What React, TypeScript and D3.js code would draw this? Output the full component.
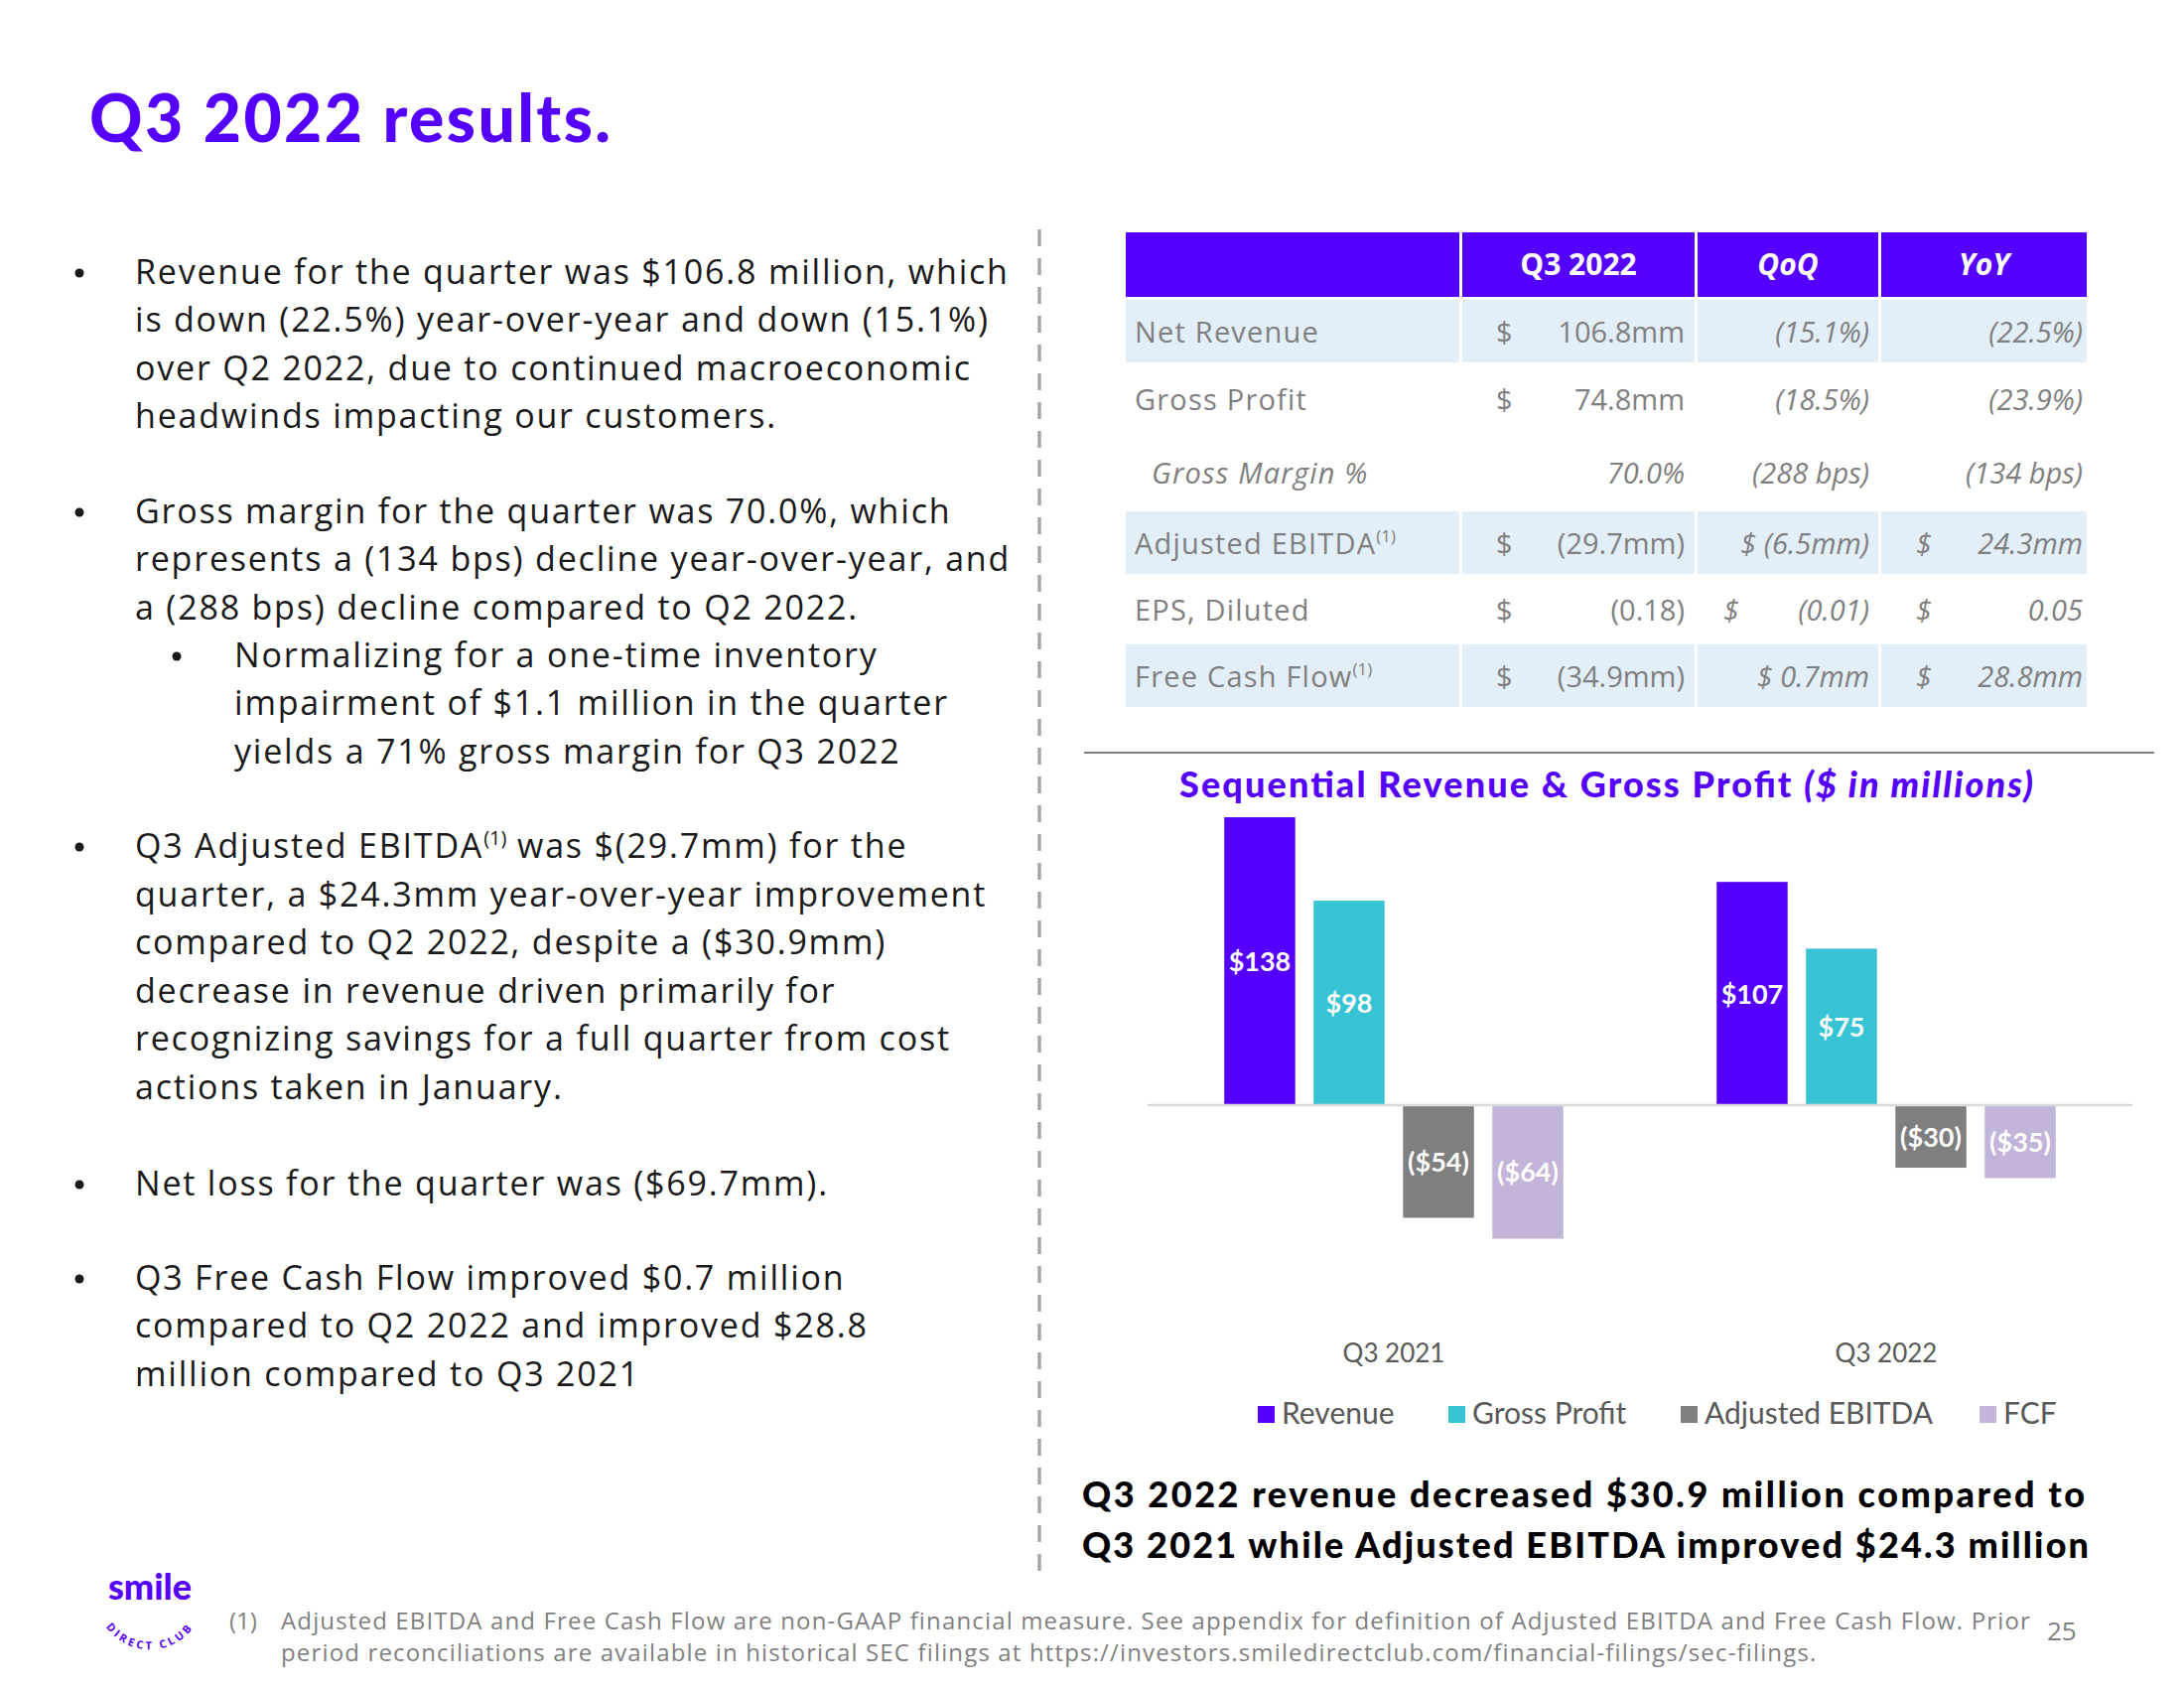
import React from "react";
import * as d3 from "d3";

const categories = ["Q3 2021", "Q3 2022"];
const seriesNames = ["Revenue", "Gross Profit", "Adjusted EBITDA", "FCF"];
const revenue = [138, 107];
const grossProfit = [98, 75];
const adjEbitda = [-54, -30];
const fcf = [-64, -35];
const barLabels = [
  ["$138", "$98", "($54)", "($64)"],
  ["$107", "$75", "($30)", "($35)"],
];
const seriesColors = ["#5500FF", "#36C3D3", "#7F7F7F", "#C3B4D9"];

const tableHeader = ["", "Q3 2022", "QoQ", "YoY"];
const tableLabels = ["Net Revenue", "Gross Profit", "Gross Margin %", "Adjusted EBITDA", "EPS, Diluted", "Free Cash Flow"];
const colQ3 = [["$", "106.8mm"], ["$", "74.8mm"], ["", "70.0%"], ["$", "(29.7mm)"], ["$", "(0.18)"], ["$", "(34.9mm)"]];
const colQoQ = [["", "(15.1%)"], ["", "(18.5%)"], ["", "(288 bps)"], ["$ ", "(6.5mm)"], ["$", "(0.01)"], ["$ ", "0.7mm"]];
const colYoY = [["", "(22.5%)"], ["", "(23.9%)"], ["", "(134 bps)"], ["$", "24.3mm"], ["$", "0.05"], ["$", "28.8mm"]];

const bullet1 = [
  "Revenue for the quarter was $106.8 million, which",
  "is down (22.5%) year-over-year and down (15.1%)",
  "over Q2 2022, due to continued macroeconomic",
  "headwinds impacting our customers.",
];
const bullet2 = [
  "Gross margin for the quarter was 70.0%, which",
  "represents a (134 bps) decline year-over-year, and",
  "a (288 bps) decline compared to Q2 2022.",
];
const subBullet = [
  "Normalizing for a one-time inventory",
  "impairment of $1.1 million in the quarter",
  "yields a 71% gross margin for Q3 2022",
];
const bullet3 = [
  "quarter, a $24.3mm year-over-year improvement",
  "compared to Q2 2022, despite a ($30.9mm)",
  "decrease in revenue driven primarily for",
  "recognizing savings for a full quarter from cost",
  "actions taken in January.",
];
const bullet4 = ["Net loss for the quarter was ($69.7mm)."];
const bullet5 = [
  "Q3 Free Cash Flow improved $0.7 million",
  "compared to Q2 2022 and improved $28.8",
  "million compared to Q3 2021",
];
const summary = [
  "Q3 2022 revenue decreased $30.9 million compared to",
  "Q3 2021 while Adjusted EBITDA improved $24.3 million",
];
const footnote = [
  "Adjusted EBITDA and Free Cash Flow are non-GAAP financial measure. See appendix for definition of Adjusted EBITDA and Free Cash Flow.  Prior",
  "period reconciliations are available in historical SEC filings at https://investors.smiledirectclub.com/financial-filings/sec-filings.",
];

const PURPLE = "#5500FF";
const HEAVY_FONT = "Lato, Inter, sans-serif";
const BODY_FONT = "'Open Sans', Lato, sans-serif";
const CHART_FONT = "Lato, 'Open Sans', sans-serif";
const TEXT = "#1a1a1a";

export default function App() {
  const x0 = d3.scaleBand<string>().domain(categories).range([1156, 2148]).paddingInner(0).paddingOuter(0);
  const x1 = d3.scaleBand<string>().domain(seriesNames).range([0, x0.bandwidth()]).paddingInner(0.206).paddingOuter(0.858);
  const y = d3.scaleLinear().domain([-80, 140]).range([1113 + 80 * 2.101, 1113 - 140 * 2.101]);
  const values = [revenue, grossProfit, adjEbitda, fcf];

  const bodyLine = (txt: string, xx: number, yy: number, key: string) => (
    <text key={key} x={xx} y={yy} fontFamily={BODY_FONT} fontSize={34} letterSpacing={1.8} fill={TEXT}>{txt}</text>
  );
  const dot = (xx: number, yy: number) => <circle cx={xx} cy={yy - 11} r={4.5} fill={TEXT} />;

  const cols = [[1134, 1470], [1473, 1707], [1710, 1892], [1895, 2102]];
  const rows = [[302, 365], [367, 436], [438, 513], [515, 578], [580, 647], [649, 712]];
  const shaded = [true, false, false, true, false, true];
  const italicVals = [false, false, true, false, false, false];

  return (
    <svg width={2200} height={1700} style={{ position: "absolute", left: 0, top: 0, background: "#fff" }}>
      <rect x={0} y={0} width={2200} height={1700} fill="#fff" />
      {/* Title */}
      <text x={90} y={143} fontFamily={HEAVY_FONT} fontWeight={900} fontSize={66} fill={PURPLE}
        textLength={525} lengthAdjust="spacing">Q3 2022 results.</text>

      {/* Bullets */}
      {dot(80, 286)}
      {bullet1.map((l, i) => bodyLine(l, 136, 286 + i * 48.4, "b1" + i))}
      {dot(80, 527)}
      {bullet2.map((l, i) => bodyLine(l, 136, 527 + i * 48.4, "b2" + i))}
      {dot(178, 672)}
      {subBullet.map((l, i) => bodyLine(l, 236, 672 + i * 48.4, "sb" + i))}
      {dot(80, 864)}
      <text x={136} y={864} fontFamily={BODY_FONT} fontSize={34} letterSpacing={1.8} fill={TEXT}>
        Q3 Adjusted EBITDA<tspan fontSize={20} letterSpacing={0} dy={-13}>(1)</tspan><tspan dy={13}> was $(29.7mm) for the</tspan>
      </text>
      {bullet3.map((l, i) => bodyLine(l, 136, 913 + i * 48.4, "b3" + i))}
      {dot(80, 1204)}
      {bullet4.map((l, i) => bodyLine(l, 136, 1204 + i * 48.4, "b4" + i))}
      {dot(80, 1299)}
      {bullet5.map((l, i) => bodyLine(l, 136, 1299 + i * 48.4, "b5" + i))}

      {/* Divider */}
      <line x1={1047} x2={1047} y1={231} y2={1592} stroke="#A6A6A6" strokeWidth={3.5} strokeDasharray="17 12" />

      {/* Table */}
      {cols.map((c, i) => (
        <rect key={"h" + i} x={c[0]} y={234} width={c[1] - c[0]} height={65} fill={PURPLE} />
      ))}
      {tableHeader.map((h, i) =>
        h ? (
          <text key={"ht" + i} x={(cols[i][0] + cols[i][1]) / 2} y={277} textAnchor="middle" fontFamily={BODY_FONT}
            fontWeight={700} fontStyle={i > 1 ? "italic" : "normal"} fontSize={30} fill="#fff">{h}</text>
        ) : null
      )}
      {rows.map((r, ri) =>
        shaded[ri]
          ? cols.map((c, ci) => (
              <rect key={"r" + ri + "c" + ci} x={c[0]} y={r[0]} width={c[1] - c[0]} height={r[1] - r[0]} fill="#E2EEF8" />
            ))
          : null
      )}
      {rows.map((r, ri) => {
        const by = (r[0] + r[1]) / 2 + 11;
        const lbl = tableLabels[ri];
        const sup = ri === 3 || ri === 5;
        return (
          <g key={"rt" + ri} fontFamily={BODY_FONT} fontSize={29} fill="#7F7F7F">
            <text x={ri === 2 ? 1160 : 1143} y={by} fontStyle={ri === 2 ? "italic" : "normal"} letterSpacing={1.2}>
              {lbl}
              {sup ? <tspan fontSize={17} letterSpacing={0} dy={-12}>(1)</tspan> : null}
            </text>
            {colQ3[ri][0] ? <text x={1507} y={by}>{colQ3[ri][0]}</text> : null}
            <text x={1697} y={by} textAnchor="end" fontStyle={italicVals[ri] ? "italic" : "normal"}>{colQ3[ri][1]}</text>
            {colQoQ[ri][0] === "$ " ? (
              <text x={1883} y={by} textAnchor="end" fontStyle="italic">{"$ " + colQoQ[ri][1]}</text>
            ) : (
              <>
                {colQoQ[ri][0] ? <text x={1736} y={by} fontStyle="italic">$</text> : null}
                <text x={1883} y={by} textAnchor="end" fontStyle="italic">{colQoQ[ri][1]}</text>
              </>
            )}
            {colYoY[ri][0] ? <text x={1930} y={by} fontStyle="italic">$</text> : null}
            <text x={2098} y={by} textAnchor="end" fontStyle="italic">{colYoY[ri][1]}</text>
          </g>
        );
      })}

      {/* Horizontal rule */}
      <line x1={1092} x2={2170} y1={758} y2={758} stroke="#808080" strokeWidth={2} />

      {/* Chart title */}
      <text x={1188} y={803} fontFamily={HEAVY_FONT} fontWeight={900} fontSize={36} fill={PURPLE}
        textLength={860} lengthAdjust="spacing">
        Sequential Revenue &amp; Gross Profit <tspan fontStyle="italic">($ in millions)</tspan>
      </text>

      {/* Bars */}
      {categories.map((cat, ci) => (
        <g key={cat}>
          {seriesNames.map((s, si) => {
            const v = values[si][ci];
            const bx = (x0(cat) as number) + (x1(s) as number);
            const top = y(Math.max(0, v));
            const bot = y(Math.min(0, v));
            return (
              <g key={s}>
                <rect x={bx} y={top} width={x1.bandwidth()} height={bot - top} fill={seriesColors[si]} />
                <text x={bx + x1.bandwidth() / 2} y={(top + bot) / 2 + 10} textAnchor="middle" fontFamily={CHART_FONT}
                  fontWeight={700} fontSize={27} fill="#fff">{barLabels[ci][si]}</text>
              </g>
            );
          })}
          <text x={(x0(cat) as number) + x0.bandwidth() / 2} y={1372} textAnchor="middle" fontFamily={CHART_FONT}
            fontSize={26} fill="#595959">{cat}</text>
        </g>
      ))}
      <line x1={1156} x2={2148} y1={y(0)} y2={y(0)} stroke="#D9D9D9" strokeWidth={2.5} />

      {/* Legend */}
      {seriesNames.map((s, i) => {
        const lx = [1267, 1459, 1693, 1994][i];
        return (
          <g key={"lg" + s}>
            <rect x={lx} y={1416} width={17} height={17} fill={seriesColors[i]} />
            <text x={lx + 24} y={1434} fontFamily={CHART_FONT} fontSize={30} fill="#595959">{s}</text>
          </g>
        );
      })}

      {/* Summary */}
      {summary.map((l, i) => (
        <text key={"sm" + i} x={1090} y={1518 + i * 51} fontFamily={HEAVY_FONT} fontWeight={900} fontSize={36} fill="#000"
          textLength={i === 0 ? 1010 : 1014} lengthAdjust="spacing">{l}</text>
      ))}

      {/* Logo */}
      <text x={151} y={1611} textAnchor="middle" fontFamily={HEAVY_FONT} fontWeight={900} fontSize={36} fill={PURPLE}>smile</text>
      <defs>
        <path id="logoArc" d="M 102 1630 A 54 54 0 0 0 200 1630" />
      </defs>
      <text fontFamily={BODY_FONT} fontWeight={700} fontSize={11} fill={PURPLE} letterSpacing={3}>
        <textPath href="#logoArc" startOffset="50%" textAnchor="middle">DIRECT CLUB</textPath>
      </text>

      {/* Footnote */}
      <text x={231} y={1641} fontFamily={BODY_FONT} fontSize={24} fill="#7F7F7F">(1)</text>
      {footnote.map((l, i) => (
        <text key={"fn" + i} x={283} y={1641 + i * 32} fontFamily={BODY_FONT} fontSize={24} letterSpacing={1.15} fill="#7F7F7F">{l}</text>
      ))}
      <text x={2062} y={1652} fontFamily={BODY_FONT} fontSize={26} fill="#7F7F7F">25</text>
    </svg>
  );
}
